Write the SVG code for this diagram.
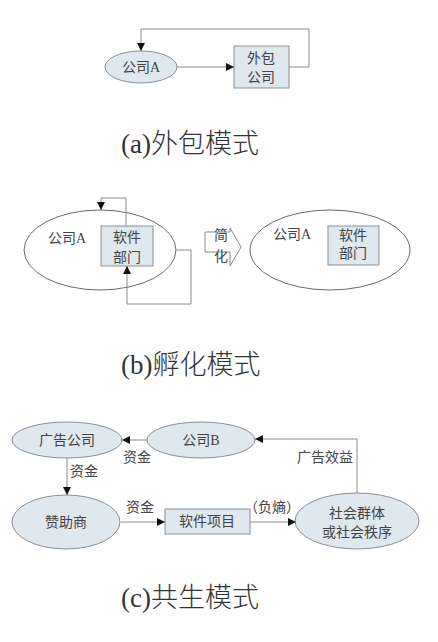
<svg xmlns="http://www.w3.org/2000/svg" width="438" height="642" viewBox="0 0 438 642">
<defs>
<style>
.t{font-family:"Liberation Serif","Noto Sans CJK SC",serif;font-size:14px;fill:#444;text-anchor:middle}
.cap{font-family:"Liberation Serif","Noto Sans CJK SC",serif;font-size:27px;font-weight:300;fill:#333}
.n{fill:#dfe7ef;stroke:#8a8f96;stroke-width:1}
.w{fill:#fff;stroke:#6a6a6a;stroke-width:1}
.c{fill:none;stroke:#8a8a8a;stroke-width:1}
</style>
<marker id="ah" viewBox="0 0 10 10" refX="10" refY="5" markerWidth="8" markerHeight="8" markerUnits="userSpaceOnUse" orient="auto">
<path d="M0,0 L10,5 L0,10 Z" fill="#111"/>
</marker>
</defs>
<rect width="438" height="642" fill="#fff"/>

<!-- (a) -->
<g id="a-companyA"><ellipse class="n" cx="141" cy="67" rx="36" ry="16"/><text class="t" x="141" y="72">公司A</text></g>
<g id="a-outsource"><rect class="n" x="234" y="46" width="55" height="42"/><text class="t" x="261" y="63">外包</text><text class="t" x="261" y="82">公司</text></g>
<g id="a-caption"><text class="cap" x="121" y="153">(a)外包模式</text></g>

<!-- (b) -->
<g id="b-companyA"><ellipse class="w" cx="100" cy="250" rx="76" ry="40"/><text class="t" x="67" y="243">公司A</text></g>
<g id="b-software"><rect class="n" x="101" y="226" width="52" height="40"/><text class="t" x="127" y="242">软件</text><text class="t" x="127" y="262">部门</text></g>
<g id="b-simplify"><path d="M205,232 H230 V228 L241,247 L230,266 V252 H205 Z" fill="#fff" stroke="#8a8a8a"/><text class="t" x="221" y="240">简</text><text class="t" x="221" y="261">化</text></g>
<g id="b-companyA2"><ellipse class="w" cx="330" cy="250" rx="80" ry="40"/><text class="t" x="292" y="239">公司A</text></g>
<g id="b-software2"><rect class="n" x="328" y="226" width="51" height="39"/><text class="t" x="353" y="240">软件</text><text class="t" x="353" y="258">部门</text></g>
<g id="b-caption"><text class="cap" x="121" y="374">(b)孵化模式</text></g>

<!-- (c) -->
<g id="c-adco"><ellipse class="n" cx="67" cy="440" rx="55" ry="18"/><text class="t" x="67" y="445">广告公司</text></g>
<g id="c-companyB"><ellipse class="n" cx="201" cy="440" rx="54" ry="18"/><text class="t" x="201" y="445">公司B</text></g>
<g id="c-sponsor"><ellipse class="n" cx="66" cy="522" rx="54" ry="27"/><text class="t" x="66" y="527">赞助商</text></g>
<g id="c-project"><rect class="n" x="165" y="509" width="85" height="25"/><text class="t" x="207" y="526">软件项目</text></g>
<g id="c-society"><ellipse class="n" cx="357" cy="521" rx="62" ry="28"/><text class="t" x="357" y="518">社会群体</text><text class="t" x="357" y="537">或社会秩序</text></g>
<g id="c-caption"><text class="cap" x="121" y="607">(c)共生模式</text></g>

<g id="connectors">
<line class="c" x1="177" y1="67" x2="234" y2="67" marker-end="url(#ah)"/>
<polyline class="c" points="289,67 309,67 309,29 141,29 141,51" marker-end="url(#ah)"/>
<polyline class="c" points="126,226 126,198 101,198 101,210" marker-end="url(#ah)"/>
<polyline class="c" points="177,250 191,250 191,304 127,304 127,266" marker-end="url(#ah)"/>
<line class="c" x1="147" y1="440" x2="122" y2="440" marker-end="url(#ah)"/>
<polyline class="c" points="357,493 357,439 255,439" marker-end="url(#ah)"/>
<line class="c" x1="67" y1="458" x2="67" y2="495" marker-end="url(#ah)"/>
<line class="c" x1="121" y1="522" x2="165" y2="522" marker-end="url(#ah)"/>
<line class="c" x1="250" y1="522" x2="296" y2="522" marker-end="url(#ah)"/>
<text class="t" x="137" y="462">资金</text>
<text class="t" x="325" y="462">广告效益</text>
<text class="t" x="84" y="476">资金</text>
<text class="t" x="140" y="512">资金</text>
<text class="t" x="272" y="512">（负熵）</text>
</g>
</svg>
